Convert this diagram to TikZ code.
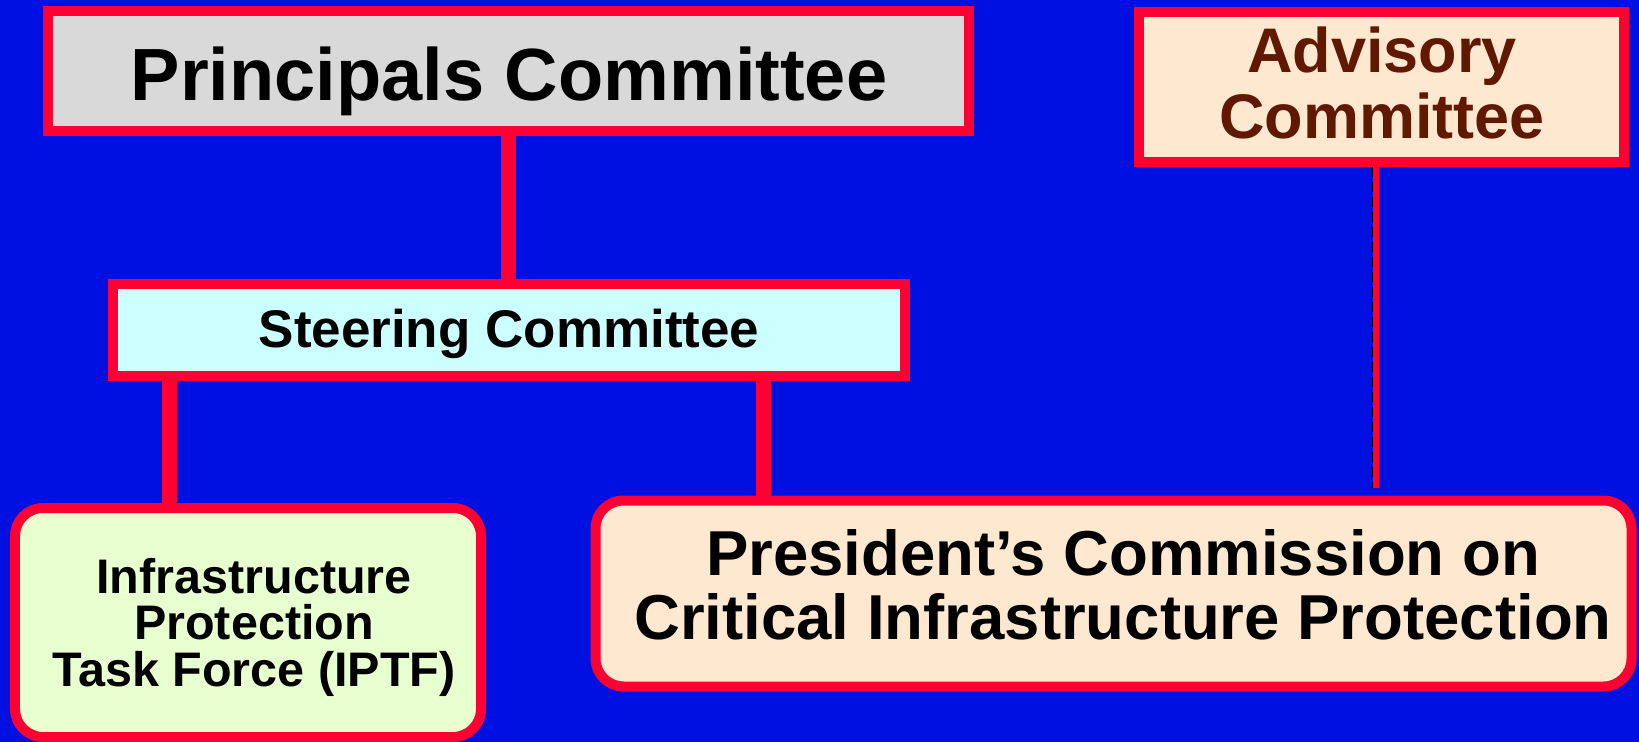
\documentclass[tikz,border=0pt]{standalone}
\usepackage{fontspec}
\setmainfont{Liberation Sans}
\definecolor{bgblue}{RGB}{0,16,224}
\definecolor{boxred}{RGB}{255,0,51}
\definecolor{pcgrey}{RGB}{217,217,217}
\definecolor{steercyan}{RGB}{204,255,255}
\definecolor{peach}{RGB}{255,232,208}
\definecolor{iptfgreen}{RGB}{232,255,208}
\definecolor{advbrown}{RGB}{96,24,0}
\tikzset{
  orgbox/.style={draw=boxred, line width=10bp, inner sep=0pt},
  orglink/.style={draw=boxred, line width=15bp},
  orgtext/.style 2 args={anchor=base, inner sep=0pt, align=center,
    font=\bfseries\fontsize{#1bp}{#2bp}\selectfont},
}
\begin{document}
\begin{tikzpicture}[x=1bp,y=-1bp]
\useasboundingbox (0,0) rectangle (1639,742);
\fill[bgblue] (0,0) rectangle (1639,742);
%
\node (pc)    at (508.5,71)    [orgbox, fill=pcgrey, minimum width=921bp, minimum height=120bp] {};
\node (ac)    at (1381.5,87)   [orgbox, fill=peach, minimum width=485bp, minimum height=150bp] {};
\node (sc)    at (509,330)     [orgbox, fill=steercyan, minimum width=792bp, minimum height=92bp] {};
\node (iptf)  at (248,622.5)   [orgbox, rounded corners=28bp, fill=iptfgreen, minimum width=466bp, minimum height=229bp] {};
\node (pccip) at (1113.5,593.5) [orgbox, rounded corners=28bp, fill=peach, minimum width=1036bp, minimum height=186bp] {};
%
\node (pctext)    at (509,100)  [orgtext={74}{76}] {Principals Committee};
\node (actext)    at (1382,138) [orgtext={63}{65}, text=advbrown] {Advisory~\\Committee};
\node (sctext)    at (509,347)  [orgtext={53}{55}] {Steering Committee};
\node (iptftext)  at (254,686)  [orgtext={48.5}{46.5}] {Infrastructure\\Protection\\Task Force (IPTF)};
\node (pcciptext) at (1123,639) [orgtext={63.5}{64}] {President’s Commission on\\Critical Infrastructure Protection};
%
\draw[orglink] (pc.south) -- (pc.south |- sc.north);
\draw[orglink] ([xshift=62bp]sc.south west) -- ([xshift=62bp]sc.south west |- iptf.north);
\draw[orglink] ([xshift=-147bp]sc.south east) -- ([xshift=-147bp]sc.south east |- pccip.north);
% dashed link
\draw[black, line width=2bp, dash pattern=on 10bp off 5bp, shorten >=8bp] ([xshift=-9bp]ac.south) -- ([xshift=-9bp]ac.south |- pccip.north);
\draw[boxred, line width=6bp, shorten >=8bp] ([xshift=-5.5bp]ac.south) -- ([xshift=-5.5bp]ac.south |- pccip.north);
\end{tikzpicture}
\end{document}
